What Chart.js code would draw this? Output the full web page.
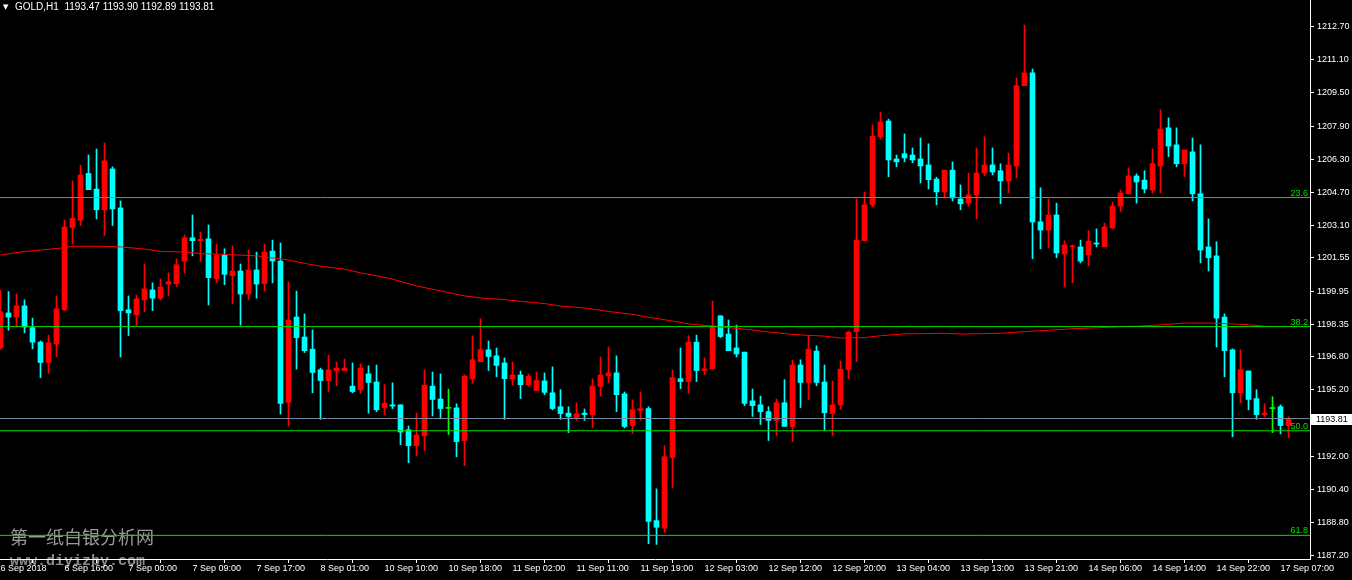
<!DOCTYPE html>
<html>
<head>
<meta charset="utf-8">
<title>GOLD,H1</title>
<script src="https://cdn.jsdelivr.net/npm/chart.js@4.4.1/dist/chart.umd.min.js"></script>
<style>
    html, body { margin: 0; padding: 0; background: #000; overflow: hidden; }
    #wrap { width: 1352px; height: 580px; }
</style>
</head>
<body>
<div id="wrap"><canvas id="chart" width="1352" height="580"></canvas></div>
<script>
const symbolName = 'GOLD,H1';

// hourly bars, oldest first (6 Sep 08:00 .. 17 Sep 08:00)
const opens = [
    1197.22, 1198.90, 1198.70, 1199.24, 1198.19, 1197.49, 1196.51, 1197.40, 1199.06, 1203.02,
    1203.37, 1205.62, 1204.87, 1203.87, 1205.84, 1203.96, 1199.05, 1198.81, 1199.53, 1200.01,
    1199.61, 1200.29, 1200.31, 1201.40, 1202.52, 1202.38, 1202.47, 1200.56, 1201.70, 1200.70,
    1200.92, 1199.81, 1200.97, 1200.31, 1201.88, 1201.40, 1194.59, 1198.70, 1197.74, 1197.15,
    1196.16, 1195.64, 1196.12, 1196.12, 1195.37, 1195.21, 1195.96, 1195.57, 1194.34, 1194.47,
    1194.47, 1193.27, 1192.50, 1192.98, 1195.37, 1194.75, 1194.30, 1194.32, 1192.75, 1195.73,
    1196.55, 1197.12, 1196.83, 1196.49, 1195.73, 1195.91, 1195.44, 1195.16, 1195.62, 1195.05,
    1194.38, 1194.07, 1193.86, 1194.07, 1194.00, 1195.36, 1195.87, 1196.01, 1195.00, 1193.47,
    1194.20, 1194.29, 1188.89, 1188.53, 1191.93, 1195.73, 1195.59, 1197.49, 1196.12, 1196.21,
    1198.76, 1197.88, 1197.21, 1197.01, 1194.66, 1194.47, 1194.14, 1193.72, 1194.57, 1193.43,
    1196.39, 1195.55, 1197.06, 1195.57, 1194.05, 1194.47, 1196.17, 1197.99, 1202.38, 1204.11,
    1207.39, 1208.15, 1206.32, 1206.57, 1206.51, 1206.32, 1206.03, 1205.35, 1204.73, 1205.78,
    1204.39, 1204.19, 1204.59, 1205.64, 1206.03, 1205.75, 1205.26, 1205.98, 1209.85, 1210.47,
    1203.29, 1202.89, 1203.62, 1201.74, 1202.08, 1202.08, 1201.70, 1202.27, 1202.09, 1203.00,
    1204.05, 1204.64, 1205.50, 1205.30, 1204.82, 1205.98, 1207.82, 1207.00, 1206.09, 1206.66,
    1204.64, 1202.08, 1201.65, 1198.70, 1197.12, 1195.05, 1196.10, 1194.77, 1194.00, 1194.29,
    1194.38, 1193.47
];
const highs = [
    1199.99, 1199.93, 1199.81, 1199.53, 1198.65, 1197.55, 1197.83, 1199.72, 1203.37, 1205.26,
    1206.02, 1206.51, 1206.80, 1207.09, 1205.94, 1204.30, 1199.72, 1199.76, 1201.26, 1200.35,
    1200.54, 1200.83, 1201.51, 1202.66, 1203.62, 1202.79, 1203.14, 1202.22, 1201.99, 1202.13,
    1201.26, 1201.93, 1201.83, 1202.22, 1202.41, 1202.27, 1200.40, 1199.95, 1198.85, 1198.08,
    1196.24, 1196.87, 1196.53, 1196.67, 1196.49, 1196.44, 1196.35, 1196.39, 1195.44, 1195.53,
    1194.47, 1193.45, 1194.07, 1196.16, 1196.05, 1195.96, 1195.23, 1194.52, 1195.92, 1197.80,
    1198.62, 1197.55, 1197.21, 1196.73, 1196.53, 1196.10, 1195.96, 1196.05, 1196.01, 1196.30,
    1195.20, 1194.38, 1194.57, 1194.27, 1195.73, 1196.78, 1197.26, 1196.83, 1195.09, 1194.71,
    1195.09, 1194.38, 1190.42, 1192.50, 1196.16, 1197.21, 1197.80, 1197.83, 1196.73, 1199.47,
    1198.76, 1198.56, 1198.31, 1197.01, 1195.23, 1194.89, 1194.38, 1194.75, 1195.68, 1196.64,
    1196.64, 1197.80, 1197.31, 1196.39, 1195.62, 1196.58, 1198.03, 1204.39, 1204.73, 1207.96,
    1208.58, 1208.24, 1206.51, 1207.53, 1206.85, 1207.33, 1207.05, 1205.44, 1205.78, 1206.18,
    1205.07, 1205.64, 1206.85, 1207.39, 1206.85, 1206.09, 1206.60, 1210.22, 1212.77, 1210.65,
    1204.93, 1204.39, 1204.19, 1202.38, 1202.18, 1202.41, 1202.86, 1202.95, 1203.23, 1204.25,
    1204.82, 1205.89, 1205.60, 1205.75, 1206.80, 1208.69, 1208.30, 1207.82, 1206.75, 1207.33,
    1207.00, 1203.43, 1202.33, 1198.85, 1197.17, 1197.12, 1196.10, 1195.20, 1194.52, 1194.86,
    1194.47, 1193.90
];
const lows = [
    1197.14, 1198.06, 1198.22, 1197.94, 1197.17, 1195.78, 1195.98, 1196.78, 1199.01, 1202.22,
    1203.11, 1204.84, 1203.43, 1202.63, 1203.11, 1196.78, 1197.81, 1198.29, 1198.96, 1199.01,
    1199.53, 1199.72, 1200.17, 1200.83, 1201.65, 1201.38, 1199.28, 1200.35, 1200.26, 1199.33,
    1198.31, 1199.53, 1199.61, 1199.95, 1200.35, 1194.02, 1193.45, 1196.19, 1196.99, 1195.05,
    1193.77, 1195.11, 1195.39, 1196.12, 1195.05, 1195.02, 1194.07, 1194.14, 1193.98, 1194.29,
    1192.55, 1191.68, 1192.02, 1192.27, 1193.93, 1193.79, 1193.04, 1191.97, 1191.54, 1195.51,
    1196.55, 1196.12, 1195.82, 1193.77, 1195.44, 1194.77, 1195.36, 1195.16, 1194.96, 1194.23,
    1193.77, 1193.13, 1193.72, 1193.72, 1193.36, 1194.88, 1195.53, 1194.14, 1193.36, 1193.09,
    1193.72, 1187.78, 1187.74, 1188.32, 1190.49, 1195.25, 1195.02, 1195.59, 1195.92, 1196.21,
    1197.71, 1197.08, 1196.78, 1194.43, 1193.91, 1193.52, 1192.75, 1192.98, 1193.43, 1192.70,
    1194.34, 1194.73, 1195.39, 1193.27, 1192.98, 1194.25, 1195.73, 1196.55, 1202.38, 1204.02,
    1207.28, 1205.46, 1205.94, 1206.18, 1206.14, 1205.16, 1204.87, 1204.11, 1204.44, 1204.30,
    1203.87, 1204.05, 1203.43, 1205.50, 1205.55, 1204.16, 1204.68, 1205.41, 1209.85, 1201.51,
    1201.99, 1202.04, 1201.56, 1200.15, 1200.35, 1201.31, 1201.17, 1202.08, 1202.09, 1202.95,
    1203.77, 1204.64, 1204.19, 1204.68, 1204.68, 1204.68, 1206.43, 1205.94, 1205.46, 1204.30,
    1201.31, 1200.92, 1197.26, 1195.82, 1192.93, 1194.57, 1194.23, 1193.77, 1193.91, 1193.13,
    1193.07, 1192.89
];
const closes = [
    1198.96, 1198.70, 1199.24, 1198.22, 1197.49, 1196.51, 1197.46, 1199.10, 1203.04, 1203.46,
    1205.55, 1204.84, 1203.87, 1206.23, 1203.91, 1199.01, 1198.90, 1199.58, 1200.06, 1199.61,
    1200.15, 1200.40, 1201.22, 1202.52, 1202.38, 1202.45, 1200.60, 1201.67, 1200.76, 1200.92,
    1199.81, 1200.97, 1200.29, 1201.84, 1201.40, 1194.54, 1198.56, 1197.71, 1197.08, 1196.03,
    1195.64, 1196.16, 1196.24, 1196.24, 1195.11, 1196.24, 1195.55, 1194.23, 1194.55, 1194.41,
    1193.16, 1192.50, 1193.02, 1195.42, 1194.73, 1194.29, 1194.30, 1192.70, 1195.85, 1196.64,
    1197.12, 1196.80, 1196.37, 1195.73, 1195.91, 1195.44, 1195.85, 1195.64, 1195.07, 1194.29,
    1194.05, 1193.91, 1194.04, 1194.00, 1195.37, 1195.91, 1196.01, 1194.96, 1193.43, 1194.23,
    1194.29, 1188.85, 1188.57, 1191.97, 1195.78, 1195.59, 1197.49, 1196.12, 1196.21, 1198.28,
    1197.76, 1197.08, 1196.92, 1194.54, 1194.43, 1194.14, 1193.72, 1194.57, 1193.43, 1196.39,
    1195.55, 1197.15, 1195.55, 1194.09, 1194.47, 1196.19, 1197.97, 1202.41, 1204.11, 1207.42,
    1208.10, 1206.27, 1206.18, 1206.37, 1206.27, 1205.98, 1205.32, 1204.73, 1205.78, 1204.44,
    1204.16, 1204.59, 1205.64, 1206.03, 1205.69, 1205.26, 1206.03, 1209.85, 1210.47, 1203.29,
    1202.89, 1203.62, 1201.79, 1202.18, 1202.13, 1201.40, 1202.36, 1202.22, 1203.04, 1204.05,
    1204.68, 1205.50, 1205.21, 1204.87, 1206.09, 1207.76, 1206.94, 1206.09, 1206.75, 1204.64,
    1201.93, 1201.56, 1198.65, 1197.08, 1195.05, 1196.16, 1194.73, 1194.00, 1194.07, 1194.29,
    1193.47, 1193.81
];

// moving average at these bars
const maBars = [
    0, 3, 5, 8, 9, 13, 15, 18, 20, 23, 25, 28, 32, 36, 38, 40, 43, 45, 47, 49,
    52, 55, 58, 60, 63, 65, 68, 70, 73, 76, 79, 81, 84, 86, 89, 91, 94, 96, 98, 100,
    103, 105, 108, 110, 113, 115, 118, 120, 125, 128, 131, 134, 137, 140, 142, 145, 148, 151, 154, 156,
    158
];
const maValues = [
    1201.69, 1201.86, 1201.93, 1202.04, 1202.11, 1202.11, 1202.08, 1201.98, 1201.86, 1201.84,
    1201.76, 1201.72, 1201.65, 1201.45, 1201.29, 1201.15, 1201.01, 1200.83, 1200.69, 1200.53,
    1200.20, 1199.96, 1199.72, 1199.62, 1199.54, 1199.46, 1199.35, 1199.23, 1199.14, 1198.97,
    1198.83, 1198.69, 1198.51, 1198.37, 1198.26, 1198.19, 1198.08, 1197.98, 1197.90, 1197.84,
    1197.78, 1197.69, 1197.71, 1197.80, 1197.89, 1197.90, 1197.92, 1197.88, 1197.92, 1198.00,
    1198.06, 1198.14, 1198.18, 1198.24, 1198.26, 1198.32, 1198.41, 1198.41, 1198.37, 1198.33,
    1198.26
];

// fibonacci retracement levels
const fibLevels = ['23.6', '38.2', '50.0', '61.8'];
const fibPrices = [1204.46, 1198.24, 1193.22, 1188.18];

// axis labels, one time label every 8 bars
const timeLabels = [
    '6 Sep 2018', '6 Sep 16:00', '7 Sep 00:00', '7 Sep 09:00', '7 Sep 17:00', '8 Sep 01:00',
    '10 Sep 10:00', '10 Sep 18:00', '11 Sep 02:00', '11 Sep 11:00', '11 Sep 19:00', '12 Sep 03:00',
    '12 Sep 12:00', '12 Sep 20:00', '13 Sep 04:00', '13 Sep 13:00', '13 Sep 21:00', '14 Sep 06:00',
    '14 Sep 14:00', '14 Sep 22:00', '17 Sep 07:00'
];
const priceLabels = [
    '1212.70', '1211.10', '1209.50', '1207.90', '1206.30', '1204.70', '1203.10', '1201.55', '1199.95',
    '1198.35', '1196.80', '1195.20', '1193.60', '1192.00', '1190.40', '1188.80', '1187.20'
];

const watermarkCn = '第一纸白银分析网';
const watermarkUrl = 'www.diyizby.com';

const BULL = '#ff0000';
const BEAR = '#00ffff';
const DOJI = '#00ff00';
const FIB = '#00e000';
const BID = '#778899';
const AXIS_FONT = {family: '"Liberation Sans", Arial, sans-serif', size: 9};

(function(){
    const last = closes.length - 1;
    const lastClose = closes[last];

    const colors = opens.map(function(o, i) {
        if (closes[i] > o) return BULL;
        if (closes[i] < o) return BEAR;
        return DOJI;
    });

    const wicks = lows.map((l, i) => ({x: i, y: [l, highs[i]]}));
    const bodies = opens.map((o, i) => ({x: i, y: [o, closes[i]]}));
    const maLine = maBars.map((b, i) => ({x: b, y: maValues[i]}));

    const xMin = -0.0625;
    const xMax = xMin + 1310 / 8;

    function hLine(price) {
        return [{x: xMin, y: price}, {x: xMax, y: price}];
    }

    const datasets = [
        {
            type: 'bar', data: wicks, backgroundColor: colors, borderWidth: 0,
            barThickness: 1, grouped: false, order: 6
        },
        {
            type: 'bar', data: bodies, backgroundColor: colors, borderWidth: 0,
            barThickness: 5, minBarLength: 1, grouped: false, order: 5
        },
        {
            type: 'line', data: maLine, borderColor: '#ff0000', borderWidth: 1,
            pointRadius: 0, tension: 0, fill: false, order: 4
        }
    ];
    fibPrices.forEach(function(p) {
        datasets.push({
            type: 'line', data: hLine(p), borderColor: FIB, borderWidth: 1,
            pointRadius: 0, fill: false, order: 3
        });
    });
    datasets.push({
        type: 'line', data: hLine(lastClose), borderColor: BID, borderWidth: 1,
        pointRadius: 0, fill: false, order: 2
    });

    const mtOverlay = {
        id: 'mtOverlay',
        beforeDraw(chart) {
            const c = chart.ctx;
            c.save();
            c.fillStyle = '#000';
            c.fillRect(0, 0, chart.width, chart.height);
            c.fillStyle = '#9a9a9a';
            c.font = '18px "Noto Sans CJK SC"';
            c.textBaseline = 'middle';
            c.fillText(watermarkCn, 10, 537);
            c.fillStyle = '#8a8a8a';
            c.font = 'bold 15px "Liberation Mono"';
            c.textBaseline = 'alphabetic';
            c.fillText(watermarkUrl, 10, 565);
            c.restore();
        },
        afterDraw(chart) {
            const c = chart.ctx;
            const area = chart.chartArea;
            const y = chart.scales.y;
            c.save();

            // fibo level captions
            c.font = '9px "Liberation Sans"';
            c.fillStyle = FIB;
            c.textAlign = 'right';
            c.textBaseline = 'bottom';
            fibLevels.forEach(function(lvl, i) {
                c.fillText(lvl, area.right - 2, Math.round(y.getPixelForValue(fibPrices[i])));
            });

            // bid price box on the axis
            const py = Math.round(y.getPixelForValue(lastClose));
            c.fillStyle = '#fff';
            c.fillRect(area.right + 1, py - 5, chart.width - area.right - 1, 11);
            c.fillStyle = '#000';
            c.textAlign = 'left';
            c.textBaseline = 'middle';
            c.fillText(lastClose.toFixed(2), area.right + 6, py + 1);

            // header
            c.fillStyle = '#fff';
            c.font = '7px "DejaVu Sans"';
            c.fillText('▼', 3, 7);
            c.font = '10px "Liberation Sans"';
            const ohlc = [opens[last], highs[last], lows[last], closes[last]].map(v => v.toFixed(2)).join(' ');
            c.fillText(symbolName + '  ' + ohlc, 15, 7);
            c.restore();
        }
    };

    const config = {
        type: 'bar',
        data: {datasets: datasets},
        options: {
            responsive: false,
            animation: false,
            devicePixelRatio: 1,
            layout: {padding: 0},
            plugins: {
                legend: {display: false},
                tooltip: {enabled: false}
            },
            scales: {
                x: {
                    type: 'linear',
                    min: xMin,
                    max: xMax,
                    offset: false,
                    grid: {
                        drawOnChartArea: false,
                        drawTicks: true,
                        tickLength: 4,
                        tickColor: '#fff'
                    },
                    border: {color: '#fff', width: 1},
                    afterBuildTicks: function(scale) {
                        scale.ticks = timeLabels.map((t, i) => ({value: i * 8}));
                    },
                    afterFit: function(scale) {
                        scale.height = 21;
                        scale.paddingLeft = 0;
                        scale.paddingRight = 0;
                    },
                    ticks: {
                        color: '#fff',
                        font: AXIS_FONT,
                        align: 'start',
                        padding: 0,
                        maxRotation: 0,
                        autoSkip: false,
                        callback: function(value, index) {
                            return timeLabels[index];
                        }
                    }
                },
                y: {
                    type: 'linear',
                    position: 'right',
                    min: 1187.04,
                    max: 1213.98,
                    grid: {
                        drawOnChartArea: false,
                        drawTicks: true,
                        tickLength: 4,
                        tickColor: '#fff'
                    },
                    border: {color: '#fff', width: 1},
                    afterBuildTicks: function(scale) {
                        scale.ticks = priceLabels.map(s => ({value: parseFloat(s)}));
                    },
                    afterFit: function(scale) {
                        scale.width = 42;
                        scale.paddingTop = 0;
                        scale.paddingBottom = 0;
                    },
                    ticks: {
                        color: '#fff',
                        font: AXIS_FONT,
                        padding: 3,
                        autoSkip: false,
                        callback: function(value, index) {
                            return priceLabels[index];
                        }
                    }
                }
            }
        },
        plugins: [mtOverlay]
    };

    new Chart(document.getElementById('chart').getContext('2d'), config);
})();
</script>
</body>
</html>
